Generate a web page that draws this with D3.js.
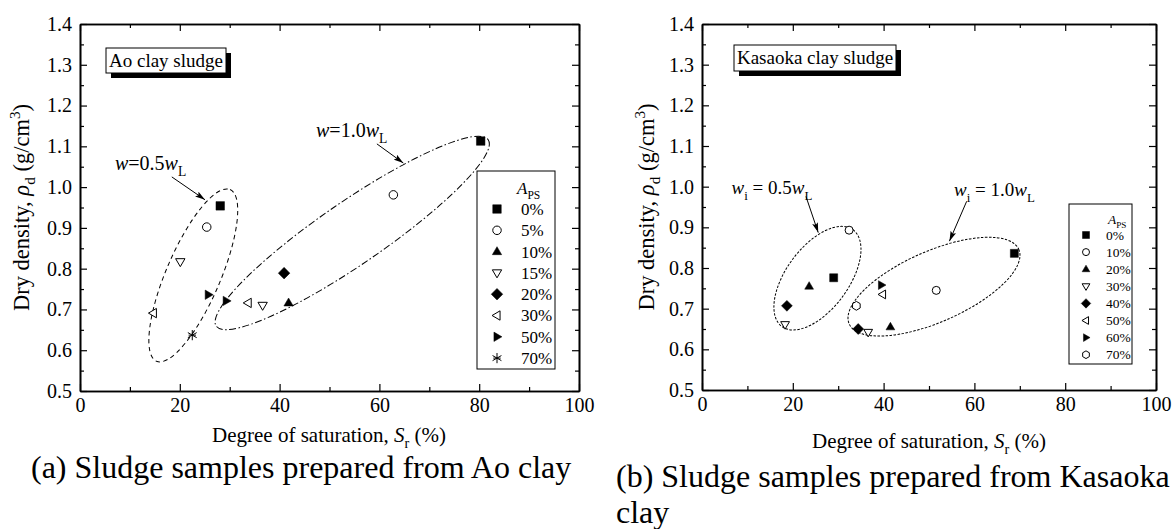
<!DOCTYPE html>
<html>
<head>
<meta charset="utf-8">
<script src="https://cdn.jsdelivr.net/npm/d3@7"></script>
<style>
  html, body { margin: 0; padding: 0; background: #fff; }
  svg { display: block; }
  svg text { font-family: 'Liberation Serif', 'Times New Roman', serif; }
</style>
</head>
<body>
<script>
// ---------------- DATA ----------------
const xTicks = [0, 20, 40, 60, 80, 100];
const yTicks = [0.5, 0.6, 0.7, 0.8, 0.9, 1.0, 1.1, 1.2, 1.3, 1.4];

// (a) Ao clay sludge
const aoLabels  = ["0%", "5%", "10%", "15%", "20%", "30%", "50%", "70%"];
const aoSymbols = ["squareFill", "circleOpen", "triUpFill", "triDownOpen", "diamondFill", "triLeftOpen", "triRightFill", "asterisk"];
const aoSr  = [[28.1, 80.3], [25.4, 62.8], [41.8], [20.1, 36.6], [40.9], [14.7, 33.7], [25.7, 29.3], [22.5]];
const aoRho = [[0.954, 1.113], [0.902, 0.981], [0.716], [0.817, 0.710], [0.789], [0.691, 0.716], [0.736, 0.721], [0.637]];
// grouping ellipses: major-axis end points (Sr, rho)
const aoEllipseEnds = [[[15.33, 0.573], [30.08, 0.994]], [[27.3, 0.659], [81.8, 1.116]]];
const aoAnnotText = [["w", "=0.5", "w", "L"], ["w", "=1.0", "w", "L"]];
const aoAnnotPos = [[7.0, 1.042], [47.3, 1.123]];
const aoArrows = [[[18.4, 1.025], [25.05, 0.969]], [[59.5, 1.106], [64.8, 1.059]]];

// (b) Kasaoka clay sludge
const kaLabels  = ["0%", "10%", "20%", "30%", "40%", "50%", "60%", "70%"];
const kaSymbols = ["squareFill", "circleOpen", "triUpFill", "triDownOpen", "diamondFill", "triLeftOpen", "triRightFill", "hexOpen"];
const kaSr  = [[29.0, 68.8], [32.4, 51.6], [23.6, 41.5], [18.3, 36.6], [18.7, 34.4], [39.8], [39.5], [34.0]];
const kaRho = [[0.776, 0.836], [0.893, 0.745], [0.755, 0.655], [0.661, 0.642], [0.707, 0.650], [0.735], [0.758], [0.707]];
const kaEllipseEnds = [[[17.6, 0.656], [33.26, 0.894]], [[32.42, 0.6624], [69.78, 0.8458]]];
const kaAnnotText = [["w", "i", " = 0.5", "w", "L"], ["w", "i", " = 1.0", "w", "L"]];
const kaAnnotPos = [[6.5, 0.981], [55.5, 0.976]];
const kaArrows = [[[22.9, 0.976], [25.6, 0.887]], [[58.3, 0.964], [54.5, 0.866]]];

const captionA = "(a) Sludge samples prepared from Ao clay";
const captionB = ["(b) Sludge samples prepared from Kasaoka", "clay"];

// ---------------- LAYOUT / STYLE ----------------
const W = 1173, H = 529;
const FONT = "'Liberation Serif', 'Times New Roman', serif";

const panels = [
  {
    labels: aoLabels, symbols: aoSymbols, sr: aoSr, rho: aoRho,
    ellipses: aoEllipseEnds, ellW: [27.1, 31.5], ellDash: ["4.5,3.5", "7,2.5,1.5,2.5"],
    annotText: aoAnnotText, annotPos: aoAnnotPos, arrows: aoArrows, annotFs: 20,
    x0: 80, x1: 579, yT: 24, yB: 391,
    box: { text: "Ao clay sludge", x: 106, y: 48, w: 120, h: 25, fs: 19 },
    legend: { x: 477, y: 171, w: 78, h: 198, fs: 17, headY: 194, headX: 517, row0: 209, rowH: 21.3, symX: 497, textX: 521, ms: 8.5 },
    ms: 8.5, yTitleX: 29, xTitleY: 442, xTitleX: 329,
  },
  {
    labels: kaLabels, symbols: kaSymbols, sr: kaSr, rho: kaRho,
    ellipses: kaEllipseEnds, ellW: [31.2, 35.4], ellDash: ["2.5,1.5", "2.5,1.5"],
    annotText: kaAnnotText, annotPos: kaAnnotPos, arrows: kaArrows, annotFs: 19,
    x0: 702, x1: 1156, yT: 24, yB: 390,
    box: { text: "Kasaoka clay sludge", x: 734, y: 45, w: 162, h: 26, fs: 19 },
    legend: { x: 1069, y: 204, w: 63, h: 160, fs: 13.5, headY: 224, headX: 1108, row0: 235, rowH: 17.1, symX: 1086, textX: 1106, ms: 7 },
    ms: 8, yTitleX: 654, xTitleY: 448, xTitleX: 929,
  }
];

const svg = d3.select("body").append("svg")
  .attr("width", W).attr("height", H)
  .style("font-family", FONT);
svg.append("rect").attr("width", W).attr("height", H).attr("fill", "#fff");

const defs = svg.append("defs");
defs.append("marker")
  .attr("id", "arrow").attr("viewBox", "0 0 10 6")
  .attr("refX", 10).attr("refY", 3)
  .attr("markerWidth", 10).attr("markerHeight", 6)
  .attr("markerUnits", "userSpaceOnUse")
  .attr("orient", "auto")
  .append("path").attr("d", "M0,0 L10,3 L0,6 L2,3 z").attr("fill", "#000");

// symbol path generator (s = nominal width)
function symPath(type, s) {
  const h = s / 2;
  const poly = pts => "M" + pts.map(p => p[0].toFixed(2) + "," + p[1].toFixed(2)).join("L") + "Z";
  const t = s * 0.58;
  switch (type) {
    case "squareFill": return poly([[-h, -h], [h, -h], [h, h], [-h, h]]);
    case "circleOpen": return d3.symbol(d3.symbolCircle, Math.PI * h * h)();
    case "triUpFill": return poly([[0, -t], [t * 0.95, t * 0.62], [-t * 0.95, t * 0.62]]);
    case "triDownOpen": return poly([[0, t], [t * 0.95, -t * 0.62], [-t * 0.95, -t * 0.62]]);
    case "triLeftOpen": return poly([[-t, 0], [t * 0.62, -t * 0.95], [t * 0.62, t * 0.95]]);
    case "triRightFill": return poly([[t, 0], [-t * 0.62, -t * 0.95], [-t * 0.62, t * 0.95]]);
    case "diamondFill": { const d = s * 0.68; return poly([[0, -d], [d, 0], [0, d], [-d, 0]]); }
    case "hexOpen": {
      const r = s * 0.55, pts = [];
      for (let k = 0; k < 6; k++) { const a = Math.PI / 6 + k * Math.PI / 3; pts.push([r * Math.cos(a), r * Math.sin(a)]); }
      return poly(pts);
    }
    case "asterisk": {
      const r = s * 0.6, p = d3.path();
      for (let k = 0; k < 3; k++) {
        const a = -Math.PI / 2 + k * Math.PI / 3;
        p.moveTo(r * Math.cos(a), r * Math.sin(a));
        p.lineTo(-r * Math.cos(a), -r * Math.sin(a));
      }
      p.moveTo(-r * 0.72, 0); p.lineTo(r * 0.72, 0);
      return p.toString();
    }
  }
}
function drawSym(g, type, x, y, s) {
  const filled = type.endsWith("Fill");
  const open = type.endsWith("Open");
  g.append("path")
    .attr("d", symPath(type, s))
    .attr("transform", `translate(${x},${y})`)
    .attr("fill", filled ? "#000" : (open ? "#fff" : "none"))
    .attr("stroke", "#000")
    .attr("stroke-width", filled ? 0.5 : 1);
}

// rich text: parts [{t, i, sub, sup}]
function rich(textSel, parts, fs) {
  let shift = 0;
  textSel.style("font-family", FONT);
  parts.forEach(p => {
    const target = p.sub ? fs * 0.28 : (p.sup ? -fs * 0.38 : 0);
    textSel.append("tspan")
      .attr("dy", target - shift)
      .attr("font-size", (p.sub || p.sup) ? fs * 0.68 : fs)
      .attr("font-style", p.i ? "italic" : "normal")
      .text(p.t);
    shift = target;
  });
}

panels.forEach(P => {
  const g = svg.append("g");
  const x = d3.scaleLinear().domain([0, 100]).range([P.x0, P.x1]);
  const y = d3.scaleLinear().domain([0.5, 1.4]).range([P.yB, P.yT]);

  const minorX = d3.range(10, 100, 20);
  const minorY = d3.range(0.55, 1.4, 0.1);

  // bottom
  g.append("g").attr("transform", `translate(0,${P.yB})`)
    .call(d3.axisBottom(x).tickValues(xTicks).tickSize(-7).tickSizeOuter(0).tickPadding(7).tickFormat(d3.format("d")));
  g.append("g").attr("transform", `translate(0,${P.yB})`)
    .call(d3.axisBottom(x).tickValues(minorX).tickSize(-4).tickSizeOuter(0).tickFormat(""));
  // top
  g.append("g").attr("transform", `translate(0,${P.yT})`)
    .call(d3.axisTop(x).tickValues(xTicks).tickSize(-7).tickSizeOuter(0).tickFormat(""));
  g.append("g").attr("transform", `translate(0,${P.yT})`)
    .call(d3.axisTop(x).tickValues(minorX).tickSize(-4).tickSizeOuter(0).tickFormat(""));
  // left
  g.append("g").attr("transform", `translate(${P.x0},0)`)
    .call(d3.axisLeft(y).tickValues(yTicks).tickSize(-7).tickSizeOuter(0).tickPadding(8).tickFormat(d3.format(".1f")));
  g.append("g").attr("transform", `translate(${P.x0},0)`)
    .call(d3.axisLeft(y).tickValues(minorY).tickSize(-4).tickSizeOuter(0).tickFormat(""));
  // right
  g.append("g").attr("transform", `translate(${P.x1},0)`)
    .call(d3.axisRight(y).tickValues(yTicks).tickSize(-7).tickSizeOuter(0).tickFormat(""));
  g.append("g").attr("transform", `translate(${P.x1},0)`)
    .call(d3.axisRight(y).tickValues(minorY).tickSize(-4).tickSizeOuter(0).tickFormat(""));

  g.selectAll(".domain").attr("stroke", "#000").attr("stroke-width", 1.6);
  g.selectAll(".tick line").attr("stroke", "#000").attr("stroke-width", 1.2);
  g.selectAll(".tick text").style("font-family", FONT).attr("font-size", 20).attr("fill", "#000");

  // axis titles
  const yt = g.append("text")
    .attr("transform", `translate(${P.yTitleX},${(P.yT + P.yB) / 2}) rotate(-90)`)
    .attr("text-anchor", "middle").attr("fill", "#000");
  rich(yt, [{ t: "Dry density, " }, { t: "ρ", i: true }, { t: "d", sub: true }, { t: " (g/cm" }, { t: "3", sup: true }, { t: ")" }], 22.5);

  const xt = g.append("text")
    .attr("x", P.xTitleX).attr("y", P.xTitleY)
    .attr("text-anchor", "middle").attr("fill", "#000");
  rich(xt, [{ t: "Degree of saturation, " }, { t: "S", i: true }, { t: "r", sub: true }, { t: " (%)" }], 21);

  // text box with shadow
  const B = P.box;
  g.append("rect").attr("x", B.x + 5).attr("y", B.y + 5).attr("width", B.w).attr("height", B.h).attr("fill", "#000");
  g.append("rect").attr("x", B.x).attr("y", B.y).attr("width", B.w).attr("height", B.h)
    .attr("fill", "#fff").attr("stroke", "#000").attr("stroke-width", 1);
  g.append("text").attr("x", B.x + B.w / 2).attr("y", B.y + B.h / 2 + B.fs * 0.33)
    .attr("text-anchor", "middle").attr("font-size", B.fs).attr("fill", "#000")
    .style("font-family", FONT).text(B.text);

  // ellipses
  P.ellipses.forEach((ends, k) => {
    const [p1, p2] = ends;
    const ax = x(p1[0]), ay = y(p1[1]), bx = x(p2[0]), by = y(p2[1]);
    const cx = (ax + bx) / 2, cy = (ay + by) / 2;
    const a = Math.hypot(bx - ax, by - ay) / 2;
    const ang = Math.atan2(by - ay, bx - ax) * 180 / Math.PI;
    g.append("ellipse")
      .attr("cx", 0).attr("cy", 0).attr("rx", a).attr("ry", P.ellW[k])
      .attr("transform", `translate(${cx},${cy}) rotate(${ang})`)
      .attr("fill", "none").attr("stroke", "#000").attr("stroke-width", 1)
      .attr("stroke-dasharray", P.ellDash[k]);
  });

  // annotations
  P.annotText.forEach((parts, k) => {
    const t = g.append("text").attr("x", x(P.annotPos[k][0])).attr("y", y(P.annotPos[k][1])).attr("fill", "#000");
    let spec;
    if (parts.length === 4) spec = [{ t: parts[0], i: true }, { t: parts[1] }, { t: parts[2], i: true }, { t: parts[3], sub: true }];
    else spec = [{ t: parts[0], i: true }, { t: parts[1], sub: true }, { t: parts[2] }, { t: parts[3], i: true }, { t: parts[4], sub: true }];
    rich(t, spec, P.annotFs);
  });
  P.arrows.forEach(ar => {
    g.append("line")
      .attr("x1", x(ar[0][0])).attr("y1", y(ar[0][1]))
      .attr("x2", x(ar[1][0])).attr("y2", y(ar[1][1]))
      .attr("stroke", "#000").attr("stroke-width", 1)
      .attr("marker-end", "url(#arrow)");
  });

  // data points
  P.symbols.forEach((s, i) => {
    P.sr[i].forEach((v, j) => drawSym(g, s, x(v), y(P.rho[i][j]), P.ms));
  });

  // legend
  const L = P.legend;
  g.append("rect").attr("x", L.x).attr("y", L.y).attr("width", L.w).attr("height", L.h)
    .attr("fill", "#fff").attr("stroke", "#000").attr("stroke-width", 1);
  const ht = g.append("text").attr("x", L.headX).attr("y", L.headY).attr("fill", "#000");
  rich(ht, [{ t: "A", i: true }, { t: "PS", sub: true }], L.fs);
  P.labels.forEach((lab, i) => {
    const cy = L.row0 + i * L.rowH;
    drawSym(g, P.symbols[i], L.symX, cy, L.ms);
    g.append("text").attr("x", L.textX).attr("y", cy + L.fs * 0.35)
      .attr("font-size", L.fs).attr("fill", "#000").style("font-family", FONT).text(lab);
  });
});

// captions
svg.append("text").attr("x", 31).attr("y", 478).attr("font-size", 32).attr("fill", "#000").style("font-family", FONT).text(captionA);
svg.append("text").attr("x", 616).attr("y", 487).attr("font-size", 32).attr("fill", "#000").style("font-family", FONT).text(captionB[0]);
svg.append("text").attr("x", 616).attr("y", 523).attr("font-size", 32).attr("fill", "#000").style("font-family", FONT).text(captionB[1]);
</script>
</body>
</html>
